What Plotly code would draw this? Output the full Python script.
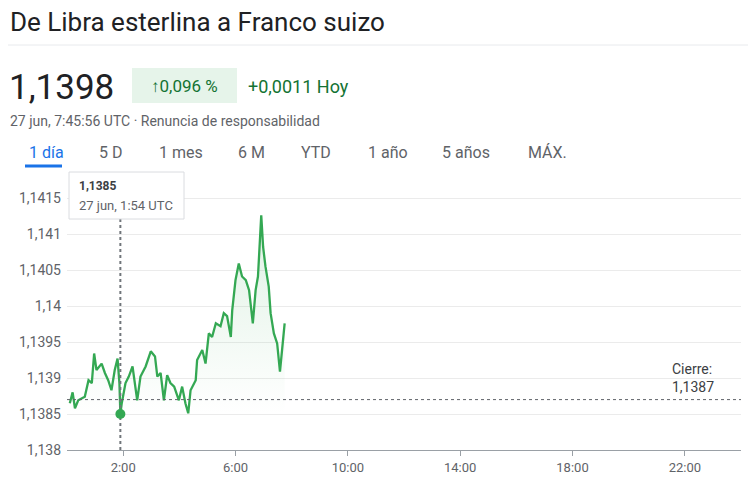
import plotly.graph_objects as go

times = ["0:06","0:12","0:17","0:24","0:38","0:46","0:53","0:58","1:03","1:14","1:21","1:28","1:35","1:42","1:48","1:52","1:54","1:57",
         "2:05","2:12","2:20","2:25","2:30","2:37","2:48","2:59","3:08","3:13","3:20","3:27","3:34","3:41","3:49","3:59","4:06","4:13",
         "4:19","4:24","4:35","4:38","4:49","4:56","5:03","5:10","5:18","5:28","5:35","5:42","5:50","5:53","6:00","6:07","6:14","6:22",
         "6:29","6:37","6:43","6:48","6:52","6:55","6:59","7:04","7:11","7:15","7:22","7:29","7:35","7:40","7:45"]
prices = [1.13865,1.13880,1.13858,1.13869,1.13874,1.13897,1.13893,1.13934,1.13911,1.13920,1.13907,1.13897,1.13883,1.13911,1.13927,1.13893,1.13850,1.13865,
          1.13893,1.13902,1.13916,1.13888,1.13869,1.13902,1.13916,1.13937,1.13930,1.13902,1.13907,1.13869,1.13904,1.13893,1.13888,1.13869,1.13888,1.13865,
          1.13851,1.13883,1.13897,1.13925,1.13939,1.13920,1.13962,1.13957,1.13976,1.13972,1.13990,1.13986,1.13957,1.13994,1.14036,1.14059,1.14041,1.14036,
          1.14022,1.13976,1.14022,1.14041,1.14089,1.14126,1.14082,1.14055,1.14027,1.13990,1.13962,1.13948,1.13909,1.13943,1.13976]
prev_close = 1.1387
hover_time, hover_price = "1:54", 1.1385
ytick_vals = [1.138,1.1385,1.139,1.1395,1.14,1.1405,1.141,1.1415]
ytick_text = ["1,138","1,1385","1,139","1,1395","1,14","1,1405","1,141","1,1415"]
xtick_vals = [2,6,10,14,18,22]
xtick_text = ["2:00","6:00","10:00","14:00","18:00","22:00"]
tabs = ["1 día","5 D","1 mes","6 M","YTD","1 año","5 años","MÁX."]
tab_x = [27,97,157,236,299,366,440,526]

def hrs(t):
    h, m = t.split(":")
    return int(h) + int(m)/60

xs = [hrs(t) for t in times]
W, H = 756, 489
O = 8  # page offset
L, R, T, B = 67 - O, 23, 180 - O, 47
def px(x): return (x - O - L) / (W - L - R)
def py(y): return (H - B - (y - O)) / (H - T - B)

GREEN = "#34a853"
fig = go.Figure()
fig.add_trace(go.Scatter(x=xs, y=prices, mode="lines", line=dict(color=GREEN, width=2.3),
                         fill="tozeroy",
                         fillgradient=dict(type="vertical", start=1.1385, stop=1.1413,
                                           colorscale=[[0, "rgba(52,168,83,0)"], [1, "rgba(52,168,83,0.16)"]]),
                         hoverinfo="skip", showlegend=False))
fig.add_trace(go.Scatter(x=[0, 24], y=[prev_close, prev_close], mode="lines",
                         line=dict(color="#5f6368", width=1, dash="dot"), showlegend=False, hoverinfo="skip"))
hx = hrs(hover_time)
fig.add_trace(go.Scatter(x=[hx, hx], y=[1.138, 1.14175], mode="lines",
                         line=dict(color="#70757a", width=2, dash="dot"), showlegend=False, hoverinfo="skip"))
fig.add_trace(go.Scatter(x=[hx], y=[hover_price], mode="markers",
                         marker=dict(color=GREEN, size=10), showlegend=False, hoverinfo="skip"))

def A(x, y, text, size, color, xanchor="left", **kw):
    return dict(xref="paper", yref="paper", x=px(x), y=py(y), text=text, showarrow=False,
                xanchor=xanchor, yanchor="middle", font=dict(size=size, color=color), **kw)

ann = [
    A(8, 22, "De Libra esterlina a Franco suizo", 26, "#202124"),
    A(7, 88, "1,1398", 35, "#202124"),
    A(184, 86, "↑0,096 %", 17, "#137333", xanchor="center"),
    A(246, 86, "+0,0011 Hoy", 18, "#137333"),
    A(8, 121, "27 jun, 7:45:56 UTC · Renuncia de responsabilidad", 14, "#5f6368"),
    A(670, 378, "Cierre:<br>1,1387", 14, "#3c4043", align="left"),
    A(77, 186, "<b>1,1385</b>", 12, "#3c4043"),
    A(77, 205, "27 jun, 1:54 UTC", 13, "#5f6368"),
]
for t, x in zip(tabs, tab_x):
    ann.append(A(x, 153, t, 16, "#1a73e8" if t == "1 día" else "#5f6368"))

shapes = [
    dict(type="line", xref="paper", yref="paper", x0=px(0), x1=px(756), y0=py(45), y1=py(45),
         line=dict(color="#e8eaed", width=1)),
    dict(type="rect", xref="paper", yref="paper", x0=px(132), x1=px(237), y0=py(68), y1=py(103),
         fillcolor="#e6f4ea", line=dict(width=0), layer="below"),
    dict(type="line", xref="paper", yref="paper", x0=px(25), x1=px(62), y0=py(166), y1=py(166),
         line=dict(color="#1a73e8", width=3)),
    dict(type="rect", xref="paper", yref="paper", x0=px(69), x1=px(184), y0=py(172), y1=py(219),
         fillcolor="white", line=dict(color="#dadce0", width=1)),
]

fig.update_layout(
    width=W, height=H, margin=dict(l=L, r=R, t=T, b=B), paper_bgcolor="white", plot_bgcolor="white",
    font=dict(family="Roboto, Arial, sans-serif"), separators=",.",
    annotations=ann, shapes=shapes,
    xaxis=dict(range=[0, 24], tickvals=xtick_vals, ticktext=xtick_text, showgrid=False, zeroline=False,
               showline=True, linecolor="#9aa0a6", ticks="outside", ticklen=5, tickcolor="#9aa0a6",
               tickfont=dict(size=13, color="#5f6368"), automargin=False),
    yaxis=dict(range=[1.138, 1.14175], tickvals=ytick_vals, ticktext=ytick_text, showgrid=True,
               gridcolor="#ebebeb", zeroline=False, showline=False, ticks="", ticklabelstandoff=5,
               tickfont=dict(size=14, color="#5f6368"), automargin=False),
)
fig.write_html("out.html")
